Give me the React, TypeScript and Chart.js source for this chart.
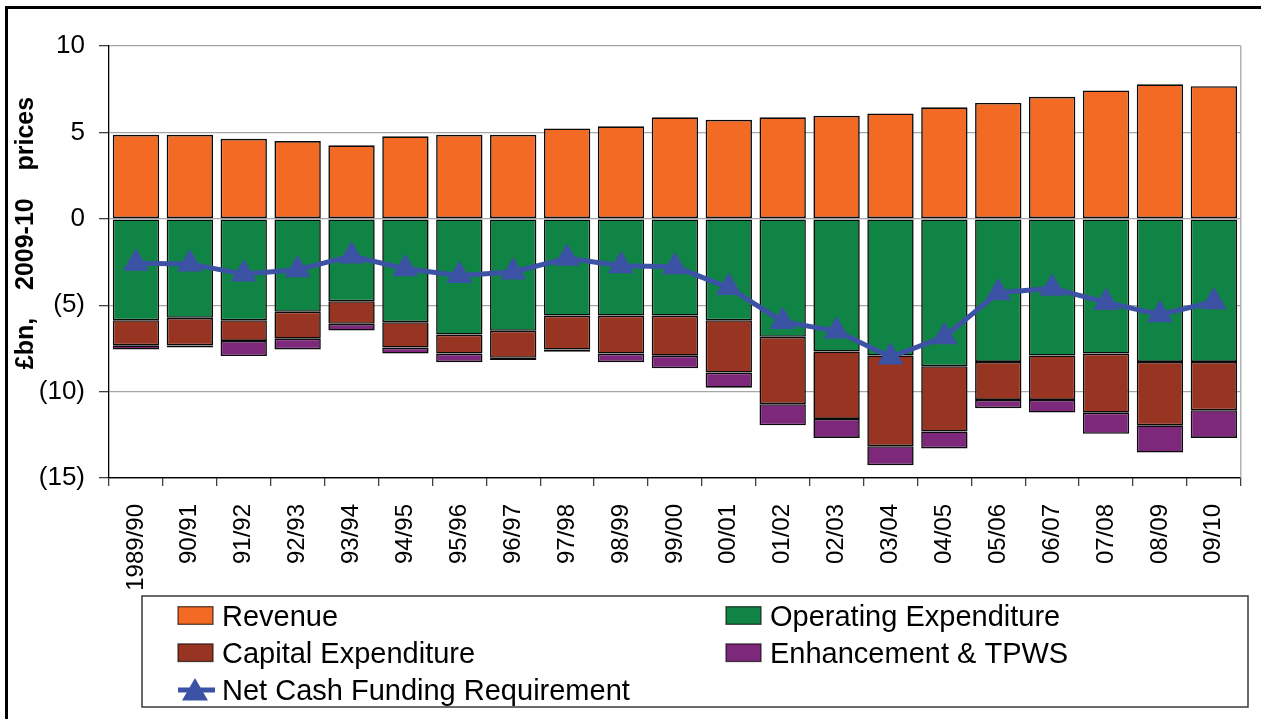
import React, { useEffect, useRef } from 'react';
import { Chart, registerables } from 'chart.js';

Chart.register(...registerables);

const LABELS = ['1989/90', '90/91', '91/92', '92/93', '93/94', '94/95', '95/96', '96/97', '97/98', '98/99', '99/00', '00/01', '01/02', '02/03', '03/04', '04/05', '05/06', '06/07', '07/08', '08/09', '09/10'];
const REVENUE = [4.86, 4.86, 4.63, 4.5, 4.25, 4.77, 4.86, 4.86, 5.23, 5.35, 5.87, 5.73, 5.87, 5.96, 6.1, 6.45, 6.7, 7.06, 7.43, 7.78, 7.67];
const OPEX = [-5.87, -5.73, -5.87, -5.38, -4.77, -5.98, -6.7, -6.48, -5.6, -5.6, -5.6, -5.87, -6.83, -7.68, -7.91, -8.53, -8.28, -7.91, -7.8, -8.28, -8.28];
const CAPEX = [-1.45, -1.6, -1.2, -1.56, -1.31, -1.47, -1.1, -1.56, -1.97, -2.2, -2.32, -3.03, -3.9, -3.9, -5.25, -3.78, -2.2, -2.57, -3.42, -3.67, -2.8];
const ENHANCEMENT = [-0.25, -0.12, -0.87, -0.62, -0.39, -0.35, -0.5, -0.13, -0.12, -0.5, -0.73, -0.87, -1.22, -1.1, -1.1, -0.98, -0.48, -0.73, -1.22, -1.58, -1.6];
const NET_CASH = [-2.57, -2.62, -3.2, -2.95, -2.15, -2.89, -3.28, -3.08, -2.29, -2.72, -2.78, -3.98, -5.95, -6.5, -8.0, -6.83, -4.28, -4.02, -4.84, -5.55, -4.8];

const SERIES_NAMES = ['Revenue', 'Operating Expenditure', 'Capital Expenditure', 'Enhancement & TPWS', 'Net Cash Funding Requirement'];
const Y_TITLE = '£bn,    2009-10    prices';
const Y_MIN = -15;
const Y_MAX = 10;
const Y_STEP = 5;

const C_REV = '#F26A24';
const C_OPEX = '#108444';
const C_CAPEX = '#973422';
const C_ENH = '#7E287C';
const C_NET = '#3C52A4';

const FONT = '"Liberation Sans", Arial, Helvetica, sans-serif';

const W = 1261;
const H = 719;

const LEG = { x: 142, y: 596, w: 1106, h: 111, col1: 178, col2: 726, row0: 615.5, rowH: 37.2 };

export default function App() {
  const ref = useRef<HTMLCanvasElement | null>(null);

  useEffect(() => {
    if (!ref.current) return;

    const framePlugin = {
      id: 'frameRight',
      beforeDatasetsDraw(chart: any) {
        const { ctx, chartArea } = chart;
        ctx.save();
        ctx.strokeStyle = '#a6a6a6';
        ctx.lineWidth = 1.3;
        ctx.beginPath();
        ctx.moveTo(chartArea.right, chartArea.top);
        ctx.lineTo(chartArea.right, chartArea.bottom);
        ctx.stroke();
        ctx.restore();
      },
    };

    const titlePlugin = {
      id: 'yTitle',
      afterDraw(chart: any) {
        const { ctx } = chart;
        ctx.save();
        ctx.translate(33, 233);
        ctx.rotate(-Math.PI / 2);
        ctx.font = `bold 25px ${FONT}`;
        ctx.fillStyle = '#000';
        ctx.textAlign = 'center';
        ctx.textBaseline = 'alphabetic';
        ctx.fillText(Y_TITLE, 0, 0);
        ctx.restore();
      },
    };

    const legendPlugin = {
      id: 'customLegend',
      afterDraw(chart: any) {
        const { ctx } = chart;
        ctx.save();
        ctx.strokeStyle = '#3a3a3a';
        ctx.lineWidth = 1.5;
        ctx.strokeRect(LEG.x, LEG.y, LEG.w, LEG.h);
        ctx.font = `29px ${FONT}`;
        ctx.textAlign = 'left';
        ctx.textBaseline = 'alphabetic';
        chart.data.datasets.forEach((ds: any, i: number) => {
          const col = i % 2;
          const row = Math.floor(i / 2);
          const x = col === 0 ? LEG.col1 : LEG.col2;
          const cy = LEG.row0 + row * LEG.rowH;
          if (ds.type === 'line') {
            ctx.strokeStyle = ds.borderColor;
            ctx.lineWidth = 5;
            ctx.beginPath();
            ctx.moveTo(x, cy);
            ctx.lineTo(x + 37, cy);
            ctx.stroke();
            const r = 15;
            const cx = x + 17;
            const ty = cy + 3;
            ctx.fillStyle = ds.backgroundColor;
            ctx.beginPath();
            ctx.moveTo(cx, ty - r);
            ctx.lineTo(cx + Math.sin((2 * Math.PI) / 3) * r, ty + r / 2);
            ctx.lineTo(cx - Math.sin((2 * Math.PI) / 3) * r, ty + r / 2);
            ctx.closePath();
            ctx.fill();
          } else {
            ctx.fillStyle = ds.backgroundColor;
            ctx.fillRect(x, cy - 8.8, 35, 17.6);
            ctx.strokeStyle = 'rgba(0,0,0,0.65)';
            ctx.lineWidth = 1.3;
            ctx.strokeRect(x, cy - 8.8, 35, 17.6);
          }
          ctx.fillStyle = '#000';
          ctx.fillText(ds.label, x + 44, cy + 10);
        });
        ctx.restore();
      },
    };

    const barCommon = {
      type: 'bar' as const,
      stack: 'bars',
      order: 1,
      borderColor: '#0a0a0a',
      borderWidth: 1.6,
      borderSkipped: false,
      categoryPercentage: 1,
      barPercentage: 0.86,
    };

    const chart = new Chart(ref.current, {
      type: 'bar',
      data: {
        labels: LABELS,
        datasets: [
          { ...barCommon, label: SERIES_NAMES[0], data: REVENUE, backgroundColor: C_REV },
          { ...barCommon, label: SERIES_NAMES[1], data: OPEX, backgroundColor: C_OPEX },
          { ...barCommon, label: SERIES_NAMES[2], data: CAPEX, backgroundColor: C_CAPEX },
          { ...barCommon, label: SERIES_NAMES[3], data: ENHANCEMENT, backgroundColor: C_ENH },
          {
            type: 'line',
            label: SERIES_NAMES[4],
            data: NET_CASH,
            stack: 'line',
            order: 0,
            borderColor: C_NET,
            backgroundColor: C_NET,
            borderWidth: 5,
            tension: 0,
            pointStyle: 'triangle',
            pointRadius: 15,
            pointHoverRadius: 15,
            pointBorderWidth: 0,
            pointBackgroundColor: C_NET,
          } as any,
        ],
      } as any,
      options: {
        responsive: false,
        animation: false,
        devicePixelRatio: 1,
        layout: { padding: { top: 46, right: 15, left: 0, bottom: 0 } },
        plugins: {
          legend: { display: false },
          tooltip: { enabled: false },
        },
        events: [],
        scales: {
          x: {
            stacked: true,
            ticks: {
              autoSkip: false,
              minRotation: 90,
              maxRotation: 90,
              color: '#000',
              padding: 18,
              font: { size: 24, family: FONT },
            },
            grid: {
              offset: true,
              drawOnChartArea: false,
              tickLength: 8,
              tickColor: '#404040',
              lineWidth: 1.3,
            },
            border: { color: '#000', width: 1.3 },
            afterFit: (s: any) => {
              s.height = 241;
            },
          },
          y: {
            stacked: true,
            min: Y_MIN,
            max: Y_MAX,
            ticks: {
              stepSize: Y_STEP,
              color: '#000',
              padding: 14,
              font: { size: 26, family: FONT },
              callback: (v: any) => (Number(v) < 0 ? `(${-Number(v)})` : `${v}`),
            },
            grid: {
              color: (c: any) => (c.tick && c.tick.value === Y_MIN ? '#000' : '#a6a6a6'),
              lineWidth: 1.3,
              tickLength: 10,
              tickColor: '#404040',
            },
            border: { color: '#000', width: 1.3 },
            afterFit: (s: any) => {
              s.width = 109;
            },
          },
        },
      } as any,
      plugins: [framePlugin, titlePlugin, legendPlugin],
    });

    return () => chart.destroy();
  }, []);

  return (
    <div style={{ position: 'fixed', left: 0, top: 0, width: W, height: H, overflow: 'hidden', background: '#fff' }}>
      <div
        style={{
          position: 'absolute',
          left: 5,
          top: 6,
          width: W + 40,
          height: H + 40,
          border: '3px solid #000',
          boxSizing: 'border-box',
        }}
      />
      <canvas ref={ref} width={W} height={H} style={{ position: 'absolute', left: 0, top: 0, width: W, height: H }} />
    </div>
  );
}
